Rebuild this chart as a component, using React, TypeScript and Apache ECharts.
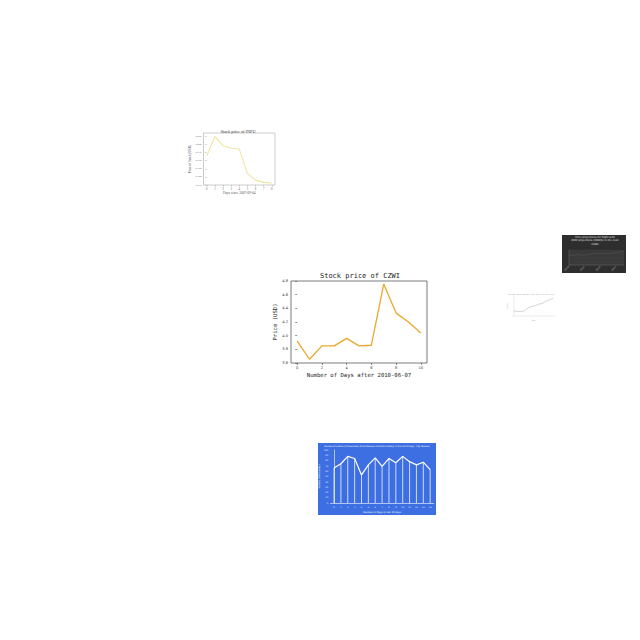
import React, { useEffect, useRef } from "react";
import * as echarts from "echarts";

// CZWI main chart
const czwiDays = [0, 1, 2, 3, 4, 5, 6, 7, 8, 9, 10];
const czwiPrice = [3.92, 3.655, 3.85, 3.85, 3.96, 3.85, 3.86, 4.755, 4.33, 4.2, 4.04];
const czwiXTicks = [0, 2, 4, 6, 8, 10];

// INPU thumbnail
const inpuDays = [0, 1, 2, 3, 4, 5, 6, 7, 8];
const inpuPrice = [0.764, 0.824, 0.796, 0.788, 0.786, 0.711, 0.69, 0.683, 0.681];
const inpuYTicks = [0.675, 0.7, 0.725, 0.75, 0.775, 0.8, 0.825];

// Blue thumbnail
const blueDays = [0, 1, 2, 3, 4, 5, 6, 7, 8, 9, 10, 11, 12, 13, 14];
const blueValues = [66, 74, 88, 84, 53, 72, 85, 69, 84, 76, 88, 78, 72, 77, 63];
const blueYTicks = [0, 10, 20, 30, 40, 50, 60, 70, 80, 90, 100];

// Light thumbnail
const lightYears = [0, 1, 2, 3, 4, 5, 6, 7, 8, 9, 10, 11];
const lightValues = [3.2, 3.1, 3.1, 3.2, 3.6, 3.8, 3.9, 4.1, 4.2, 4.5, 4.7, 4.9];

// Dark thumbnail
const darkLabels = ["2019", "2020", "2021", "2022", "2023", "2024", "2025", "2026"];
const darkValues = [12, 14, 13, 15, 16, 15, 17, 18];

export default function App() {
  const ref = useRef<HTMLDivElement>(null);
  useEffect(() => {
    if (!ref.current) return;
    const chart = echarts.init(ref.current, null, { renderer: "svg" });
    const mono = "DejaVu Sans Mono";
    const serif = "Liberation Serif";
    const sans = "DejaVu Sans";
    const option: any = {
      animation: false,
      backgroundColor: "#ffffff",
      grid: [
        { left: 203.5, top: 133, width: 71.5, height: 52, show: true, borderColor: "#999", borderWidth: 0.5, backgroundColor: "#fff" },
        { left: 291, top: 281, width: 136, height: 82, show: true, borderColor: "#444", borderWidth: 0.7, backgroundColor: "#fff" },
        { left: 330.6, top: 450, width: 103, height: 53, show: false },
        { left: 512, top: 296, width: 43, height: 20, show: false },
        { left: 569, top: 250, width: 55, height: 15, show: true, borderWidth: 0, backgroundColor: "#3a3a3a" },
      ],
      xAxis: [
        {
          gridIndex: 0, type: "value", min: -0.4, max: 8.4,
          axisLine: { show: false }, splitLine: { show: false },
          axisTick: { show: true, length: 1.5, lineStyle: { color: "#999", width: 0.5 }, customValues: inpuDays },
          axisLabel: { customValues: inpuDays, fontSize: 3, color: "#666", margin: 2, fontFamily: serif },
          name: "Days since 2007-09-04", nameLocation: "middle", nameGap: 6,
          nameTextStyle: { fontSize: 3.5, color: "#555", fontFamily: serif },
        },
        {
          gridIndex: 1, type: "value", min: -0.5, max: 10.5,
          axisLine: { show: false }, splitLine: { show: false },
          axisTick: { show: true, length: 2, lineStyle: { color: "#444", width: 0.6 }, customValues: czwiXTicks },
          axisLabel: { customValues: czwiXTicks, fontSize: 3.6, color: "#333", margin: 2.5, fontFamily: sans },
          name: "Number of Days after 2010-06-07", nameLocation: "middle", nameGap: 8.5,
          nameTextStyle: { fontSize: 5.6, color: "#222", fontFamily: mono },
        },
        {
          gridIndex: 2, type: "value", min: -0.5, max: 14.5,
          axisLine: { show: true, lineStyle: { color: "#ffffff", width: 0.6 } }, splitLine: { show: false },
          axisTick: { show: false },
          axisLabel: { customValues: blueDays, fontSize: 2.2, color: "#e8eeff", margin: 3, fontFamily: sans },
          name: "Number of Days of last 15 days", nameLocation: "middle", nameGap: 8,
          nameTextStyle: { fontSize: 2.4, color: "#ffffff", fontFamily: sans },
        },
        {
          gridIndex: 3, type: "value", min: -0.5, max: 11.5,
          axisLine: { show: true, lineStyle: { color: "#ccc", width: 0.4 } }, splitLine: { show: false },
          axisTick: { show: false }, axisLabel: { show: false },
          name: "Year", nameLocation: "middle", nameGap: 3,
          nameTextStyle: { fontSize: 2, color: "#aaa", fontFamily: sans },
        },
        {
          gridIndex: 4, type: "category", data: darkLabels, boundaryGap: false,
          axisLine: { show: true, lineStyle: { color: "#777", width: 0.4 } }, splitLine: { show: false },
          axisTick: { show: false },
          axisLabel: { fontSize: 2.4, color: "#bbb", rotate: 45, margin: 1.5, fontFamily: sans },
        },
      ],
      yAxis: [
        {
          gridIndex: 0, type: "value", min: 0.675, max: 0.835,
          axisLine: { show: false }, splitLine: { show: false },
          axisTick: { show: true, length: 1.5, lineStyle: { color: "#999", width: 0.5 }, customValues: inpuYTicks },
          axisLabel: { customValues: inpuYTicks, fontSize: 2.6, color: "#666", margin: 2, fontFamily: serif, formatter: (v: number) => v.toFixed(3) },
          name: "Price of Stock (USD)", nameLocation: "middle", nameGap: 10,
          nameTextStyle: { fontSize: 3.3, color: "#555", fontFamily: serif },
        },
        {
          gridIndex: 1, type: "value", min: 3.6, max: 4.8, interval: 0.2,
          axisLine: { show: false }, splitLine: { show: false },
          axisTick: { show: true, length: 2, lineStyle: { color: "#444", width: 0.6 } },
          axisLabel: { fontSize: 3.6, color: "#333", margin: 3, fontFamily: sans, formatter: (v: number) => v.toFixed(1) },
          name: "Price (USD)", nameLocation: "middle", nameGap: 9.5,
          nameTextStyle: { fontSize: 5.6, color: "#222", fontFamily: mono },
        },
        {
          gridIndex: 2, type: "value", min: 0, max: 100,
          axisLine: { show: true, lineStyle: { color: "#ffffff", width: 0.6 } }, splitLine: { show: false },
          axisTick: { show: false },
          axisLabel: { customValues: blueYTicks, fontSize: 2.2, color: "#e8eeff", margin: 2.5, fontFamily: sans },
          name: "Visitors (thousands)", nameLocation: "middle", nameGap: 7,
          nameTextStyle: { fontSize: 2.4, color: "#ffffff", fontFamily: sans },
        },
        {
          gridIndex: 3, type: "value", min: 2.5, max: 5.2,
          axisLine: { show: true, lineStyle: { color: "#ccc", width: 0.4 } }, splitLine: { show: false },
          axisTick: { show: false }, axisLabel: { show: false },
          name: "Value", nameLocation: "middle", nameGap: 4,
          nameTextStyle: { fontSize: 2, color: "#aaa", fontFamily: sans },
        },
        {
          gridIndex: 4, type: "value", min: 0, max: 20,
          axisLine: { show: true, lineStyle: { color: "#777", width: 0.4 } },
          splitLine: { show: true, lineStyle: { color: "#444", width: 0.3 } },
          axisTick: { show: false }, axisLabel: { show: false }, splitNumber: 4,
        },
      ],
      series: [
        {
          type: "line", xAxisIndex: 0, yAxisIndex: 0, symbol: "none",
          data: inpuDays.map((d, i) => [d, inpuPrice[i]]),
          lineStyle: { color: "#efe6a0", width: 1.1 },
        },
        {
          type: "line", xAxisIndex: 1, yAxisIndex: 1, symbol: "none",
          data: czwiDays.map((d, i) => [d, czwiPrice[i]]),
          lineStyle: { color: "#eaa82a", width: 1.3 },
        },
        {
          type: "bar", xAxisIndex: 2, yAxisIndex: 2, barWidth: 0.6,
          data: blueDays.map((d, i) => [d, blueValues[i]]),
          itemStyle: { color: "rgba(255,255,255,0.75)" },
        },
        {
          type: "line", xAxisIndex: 2, yAxisIndex: 2, symbol: "none",
          data: blueDays.map((d, i) => [d, blueValues[i]]),
          lineStyle: { color: "#ffffff", width: 1.2 },
        },
        {
          type: "line", xAxisIndex: 3, yAxisIndex: 3, symbol: "none",
          data: lightYears.map((d, i) => [d, lightValues[i]]),
          lineStyle: { color: "#b8b8b8", width: 0.6 },
        },
        {
          type: "line", xAxisIndex: 4, yAxisIndex: 4, symbol: "none",
          data: darkValues,
          lineStyle: { color: "#5a5a5a", width: 0.5 },
        },
      ],
      graphic: [
        { type: "rect", z: -10, shape: { x: 318, y: 443, width: 118, height: 72 }, style: { fill: "#3d6fe2" } },
        { type: "rect", z: -10, shape: { x: 562, y: 235, width: 64, height: 38 }, style: { fill: "#2e2e2e" } },
        {
          type: "text", z: 50, x: 238, y: 131,
          style: { text: "Stock price of INPU", fontSize: 4.3, fontFamily: serif, fill: "#444", textAlign: "center", textVerticalAlign: "middle" },
        },
        {
          type: "text", z: 50, x: 360, y: 276,
          style: { text: "Stock price of CZWI", fontSize: 7, fontFamily: mono, fill: "#222", textAlign: "center", textVerticalAlign: "middle" },
        },
        {
          type: "text", z: 50, x: 377, y: 446.5,
          style: { text: "Number of visitors (in thousands) to the Museum of Natural History in the last 15 days - City Museum", fontSize: 2.1, fontFamily: sans, fill: "#ffffff", textAlign: "center", textVerticalAlign: "middle" },
        },
        {
          type: "text", z: 50, x: 595, y: 241,
          style: { text: "Price projections for flight with\nKRW projections (KRW/$) in the next\n(USD)", fontSize: 2.6, lineHeight: 3.4, fontFamily: sans, fill: "#e0e0e0", textAlign: "center", textVerticalAlign: "middle" },
        },
        {
          type: "text", z: 50, x: 531, y: 294,
          style: { text: "Average annual growth of the index over the years", fontSize: 1.8, fontFamily: sans, fill: "#aaa", textAlign: "center", textVerticalAlign: "middle" },
        },
      ],
    };
    chart.setOption(option);
    return () => chart.dispose();
  }, []);
  return <div ref={ref} style={{ position: "fixed", left: 0, top: 0, width: 640, height: 640 }} />;
}
